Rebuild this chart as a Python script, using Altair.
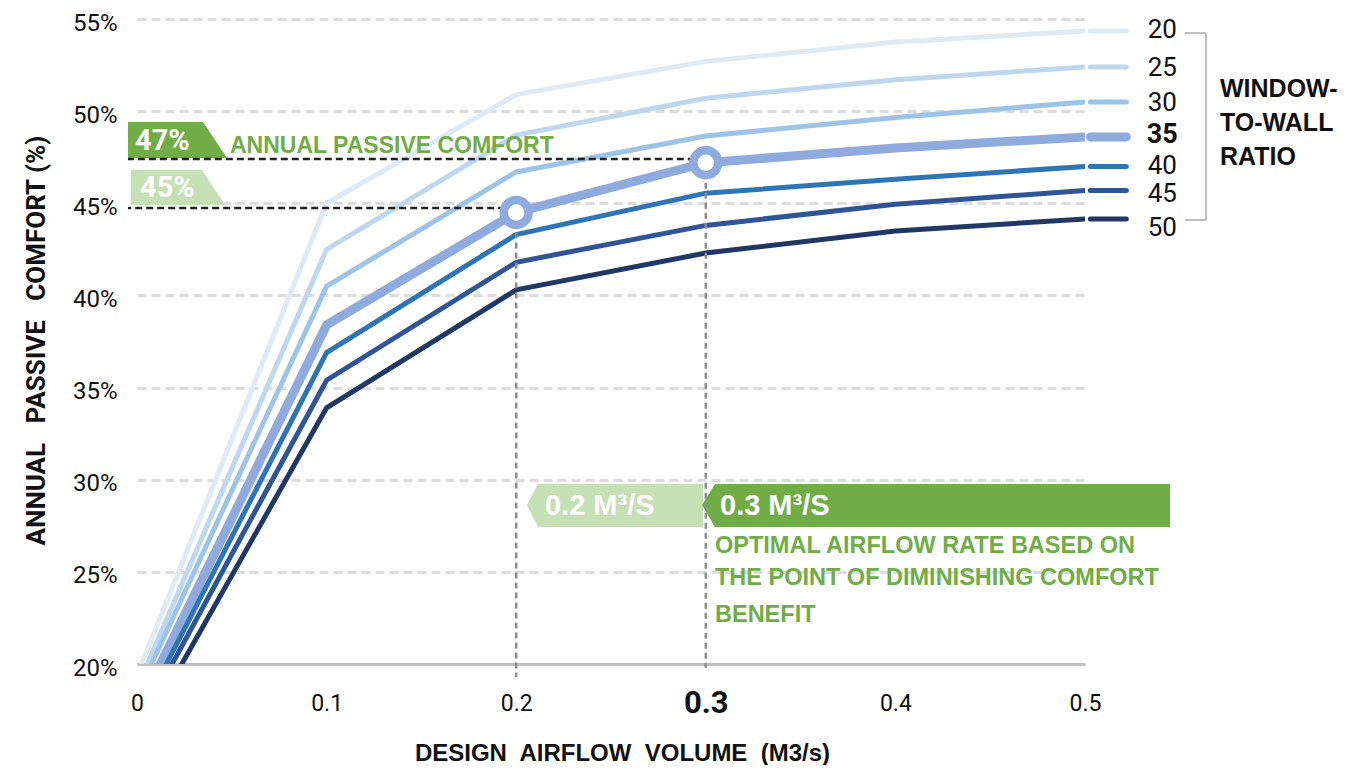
import altair as alt
import pandas as pd

# ---------------- data ----------------
airflow = [0, 0.1, 0.2, 0.3, 0.4, 0.5]
wwr_names = ["20", "25", "30", "35", "40", "45", "50"]
wwr_20 = [19.4, 45.0, 50.9, 52.7, 53.75, 54.35]
wwr_25 = [18.7, 42.5, 48.7, 50.7, 51.7, 52.4]
wwr_30 = [18.3, 40.5, 46.7, 48.65, 49.65, 50.5]
wwr_35 = [17.4, 38.4, 44.5, 47.2, 48.0, 48.6]
wwr_40 = [16.9, 36.9, 43.3, 45.55, 46.3, 47.0]
wwr_45 = [16.5, 35.4, 41.8, 43.8, 44.95, 45.7]
wwr_50 = [15.7, 33.9, 40.3, 42.3, 43.5, 44.15]
series_values = [wwr_20, wwr_25, wwr_30, wwr_35, wwr_40, wwr_45, wwr_50]
series_colors = ["#DEEBF7", "#BDD7EE", "#9DC3E6", "#8FAADC", "#2E75B6", "#2F5597", "#1F3864"]
series_widths = [5, 5, 5, 9, 5, 5, 5]
label_pos = [54.4, 52.35, 50.45, 48.7, 47.0, 45.5, 43.65]

highlight_x = [0.2, 0.3]
highlight_v = [44.5, 47.2]
ref_comfort = [44.75, 47.4]
vline_bottom = [19.3, 19.8]
stub_x = [0.5028, 0.5218]

x_ticks = [0, 0.1, 0.2, 0.3, 0.4, 0.5]
y_ticks = [20, 25, 30, 35, 40, 45, 50, 55]

FONT = "Liberation Sans, Arial, sans-serif"
COND = "Roboto, Liberation Sans, sans-serif"
GREEN = "#70AD47"
LGREEN = "#C5E0B4"
INK = "#111111"

W, H = 948, 645

rows = []
for name, vals, col, w in zip(wwr_names, series_values, series_colors, series_widths):
    for xv, v in zip(airflow, vals):
        rows.append({"wwr": name, "x": xv, "v": v, "color": col, "w": w})
df = pd.DataFrame(rows)

stub_rows = []
for name, vals, col, w in zip(wwr_names, series_values, series_colors, series_widths):
    for sx in stub_x:
        stub_rows.append({"wwr": name, "x": sx, "v": vals[-1], "color": col, "w": w})
df_stub = pd.DataFrame(stub_rows)

df_lab = pd.DataFrame({"wwr": wwr_names, "pos": label_pos,
                       "x": [stub_x[-1]] * len(wwr_names),
                       "bold": [n == "35" for n in wwr_names]})

df_hi = pd.DataFrame({"x": highlight_x, "v": highlight_v, "ref": ref_comfort, "bottom": vline_bottom})

one = pd.DataFrame({"a": [0]})

xscale = alt.Scale(domain=[0, 0.5], nice=False, zero=False)
yscale = alt.Scale(domain=[20, 55], nice=False, zero=False)

is03 = "abs(datum.value - 0.3) < 0.001"
x_axis = alt.Axis(
    values=x_ticks, format="~g", labelFlush=False, labelOverlap=False,
    ticks=False, grid=False, domain=True, domainColor="#bfbfbf", domainWidth=3,
    labelPadding=39, labelBaseline="middle", labelFont=COND, labelColor=INK,
    labelFontSize={"condition": {"test": is03, "value": 31}, "value": 23},
    labelFontWeight={"condition": {"test": is03, "value": "bold"}, "value": "normal"},
    title="DESIGN\u00a0 AIRFLOW\u00a0 VOLUME\u00a0 (M3/s)", titleFont=FONT, titleFontSize=24,
    titleFontWeight="bold", titleColor=INK, titleX=485, titleY=89,
    titleAlign="center", titleBaseline="middle", titleAnchor="middle",
)
y_axis = alt.Axis(
    values=y_ticks, labelExpr="datum.value + '%'", ticks=False, domain=False,
    grid=True, gridDash=[9, 5], gridColor="#dcdcdc", gridWidth=3,
    labelPadding=20, labelFont=COND, labelFontSize=24, labelColor=INK, labelOffset=4,
    title="ANNUAL\u00a0\u00a0 PASSIVE\u00a0\u00a0 COMFORT (%)", titleFont=COND, titleFontSize=26,
    titleFontWeight="bold", titleColor=INK, titleAngle=270, titleX=-101, titleY=321,
    titleAlign="center", titleBaseline="middle",
)

lines = alt.Chart(df).mark_line(clip=True, strokeCap="round").encode(
    x=alt.X("x:Q", scale=xscale, axis=x_axis),
    y=alt.Y("v:Q", scale=yscale, axis=y_axis),
    detail="wwr:N",
    color=alt.Color("color:N", scale=None),
    strokeWidth=alt.StrokeWidth("w:Q", scale=None),
    order="x:Q",
)

stubs = alt.Chart(df_stub).mark_line(strokeCap="round").encode(
    x="x:Q", y="v:Q", detail="wwr:N",
    color=alt.Color("color:N", scale=None),
    strokeWidth=alt.StrokeWidth("w:Q", scale=None),
)

labels_norm = alt.Chart(df_lab).transform_filter("!datum.bold").mark_text(
    font=COND, fontSize=26, color=INK, align="center", baseline="middle", dx=36
).encode(x="x:Q", y="pos:Q", text="wwr:N")
labels_bold = alt.Chart(df_lab).transform_filter("datum.bold").mark_text(
    font=COND, fontSize=27, fontWeight="bold", color=INK, align="center", baseline="middle", dx=36
).encode(x="x:Q", y="pos:Q", text="wwr:N")


def poly(points, fill):
    d = pd.DataFrame(points, columns=["px", "py", "py2"])
    return alt.Chart(d).mark_area(orient="vertical", color=fill).encode(
        x=alt.X("px:Q", scale=None, axis=None),
        y=alt.Y("py:Q", scale=None, axis=None),
        y2="py2:Q",
    )


badge47 = poly([(-9, 103, 139), (66, 103, 139), (90, 139, 139)], GREEN)
badge45 = poly([(-6, 151, 186), (65, 151, 186), (88, 186, 186)], LGREEN)
arrow02 = poly([(390, 486, 486), (401, 465, 508), (566, 465, 508)], LGREEN)
arrow03 = poly([(565, 486, 486), (578, 465, 508), (1033, 465, 508)], GREEN)

vlines = alt.Chart(df_hi).mark_rule(strokeDash=[6, 4], color="#8c8c8c", strokeWidth=2.5).encode(
    x="x:Q", y="v:Q", y2="bottom:Q"
)
hlines = alt.Chart(df_hi).mark_rule(strokeDash=[7, 4], color="#222222", strokeWidth=2.5).encode(
    x="x:Q", x2=alt.value(-9), y="ref:Q"
)
circles = alt.Chart(df_hi).mark_point(
    shape="circle", fill="white", fillOpacity=1, stroke="#8FAADC", strokeWidth=8.5, size=620, opacity=1
).encode(x="x:Q", y="v:Q")


def txt(s, x, y, size, color, weight="bold", font=FONT, align="left"):
    return alt.Chart(one).mark_text(
        text=s, font=font, fontSize=size, fontWeight=weight, color=color,
        align=align, baseline="middle"
    ).encode(x=alt.value(x), y=alt.value(y))


texts = [
    txt("47%", -2, 122, 29, "white", font=COND),
    txt("45%", 3, 169, 29, "white", font=COND),
    txt("ANNUAL PASSIVE COMFORT", 93, 127, 23, GREEN),
    txt("0.2 M\u00b3/S", 408, 487, 29, "white"),
    txt("0.3 M\u00b3/S", 583, 487, 29, "white"),
    txt("OPTIMAL AIRFLOW RATE BASED ON", 578, 527, 23.5, GREEN),
    txt("THE POINT OF DIMINISHING COMFORT", 578, 559, 23.5, GREEN),
    txt("BENEFIT", 578, 596, 23.5, GREEN),
    txt("WINDOW-", 1083, 70, 25, INK),
    txt("TO-WALL", 1083, 104, 25, INK),
    txt("RATIO", 1083, 138, 25, INK),
]

bracket = [
    alt.Chart(one).mark_rule(color="#bfbfbf", strokeWidth=2).encode(
        x=alt.value(1048), x2=alt.value(1069), y=alt.value(14)),
    alt.Chart(one).mark_rule(color="#bfbfbf", strokeWidth=2).encode(
        x=alt.value(1069), y=alt.value(14), y2=alt.value(201)),
    alt.Chart(one).mark_rule(color="#bfbfbf", strokeWidth=2).encode(
        x=alt.value(1048), x2=alt.value(1069), y=alt.value(201)),
]

chart = alt.layer(
    lines, stubs, badge47, badge45, arrow02, arrow03, vlines, hlines, circles,
    labels_norm, labels_bold, *texts, *bracket
).properties(
    width=W, height=H,
    autosize=alt.AutoSizeParams(type="none"),
    padding={"left": 129, "top": 11, "right": 254, "bottom": 101},
    background="white",
).configure_view(stroke=None)

chart.save("out.html", embed_options={"renderer": "svg", "actions": False})
